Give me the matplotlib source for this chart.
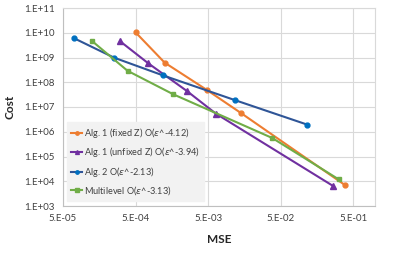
import matplotlib
matplotlib.use("Agg")
import matplotlib.pyplot as plt
from matplotlib.ticker import FixedLocator, NullLocator

plt.rcParams['font.family'] = ['Lato', 'DejaVu Sans']
plt.rcParams['mathtext.fontset'] = 'dejavusans'

# Data
mse_fixed = [5.0e-4, 1.26e-3, 4.8e-3, 1.42e-2, 0.386]
cost_fixed = [1.04e10, 6.2e8, 4.9e7, 5.7e6, 7.0e3]

mse_unfixed = [3.07e-4, 7.5e-4, 2.56e-3, 6.4e-3, 0.261]
cost_unfixed = [4.5e9, 5.8e8, 4.4e7, 5.4e6, 6.6e3]

mse_alg2 = [7.1e-5, 2.54e-4, 1.19e-3, 1.17e-2, 0.117]
cost_alg2 = [6.0e9, 9.8e8, 1.9e8, 1.9e7, 1.93e6]

mse_ml = [1.26e-4, 3.88e-4, 1.66e-3, 3.83e-2, 0.315]
cost_ml = [4.6e9, 2.9e8, 3.25e7, 5.6e5, 1.2e4]

labels = [r'Alg. 1 (fixed Z) O($\varepsilon$^-4.12)',
          r'Alg. 1 (unfixed Z) O($\varepsilon$^-3.94)',
          r'Alg. 2 O($\varepsilon$^-2.13)',
          r'Multilevel O($\varepsilon$^-3.13)']

x_ticks = [5e-5, 5e-4, 5e-3, 5e-2, 5e-1]
x_ticklabels = ['5.E-05', '5.E-04', '5.E-03', '5.E-02', '5.E-01']
y_ticks = [1e3, 1e4, 1e5, 1e6, 1e7, 1e8, 1e9, 1e10, 1e11]
y_ticklabels = ['1.E+03', '1.E+04', '1.E+05', '1.E+06', '1.E+07',
                '1.E+08', '1.E+09', '1.E+10', '1.E+11']

fig = plt.figure(figsize=(3.99, 2.57), dpi=100)
ax = fig.add_axes([63/399, 1-206/257, (375-63)/399, (206-8)/257])

ax.plot(mse_fixed, cost_fixed, color='#ED7D31', lw=1.5, marker='o', ms=3.5,
        label=labels[0], zorder=3)
ax.plot(mse_unfixed, cost_unfixed, color='#7030A0', lw=1.5, marker='^', ms=4,
        label=labels[1], zorder=3)
ax.plot(mse_alg2, cost_alg2, color='#2F5597', lw=1.5, marker='o', ms=3.5,
        mfc='#0070C0', mec='#0070C0', label=labels[2], zorder=3)
ax.plot(mse_ml, cost_ml, color='#70AD47', lw=1.5, marker='s', ms=3.5,
        label=labels[3], zorder=3)

ax.set_xscale('log')
ax.set_yscale('log')
ax.set_xlim(5e-5, 1.0)
ax.set_ylim(1e3, 1e11)
ax.xaxis.set_major_locator(FixedLocator(x_ticks))
ax.xaxis.set_minor_locator(NullLocator())
ax.yaxis.set_major_locator(FixedLocator(y_ticks))
ax.yaxis.set_minor_locator(NullLocator())
ax.set_xticklabels(x_ticklabels)
ax.set_yticklabels(y_ticklabels)
ax.tick_params(axis='both', length=0, labelsize=7, colors='#404040', pad=6)

ax.grid(True, color='#D9D9D9', lw=0.8, zorder=0)
ax.set_axisbelow(True)
for side in ['top', 'right']:
    ax.spines[side].set_color('#D9D9D9')
    ax.spines[side].set_linewidth(0.8)
for side in ['left', 'bottom']:
    ax.spines[side].set_color('#BFBFBF')
    ax.spines[side].set_linewidth(0.8)

ax.set_xlabel('MSE', fontsize=8.5, fontweight='bold', color='#262626', labelpad=8)
ax.set_ylabel('Cost', fontsize=8.5, fontweight='bold', color='#262626', labelpad=6)

leg = ax.legend(loc='lower left', bbox_to_anchor=(0.008, 0.015), fontsize=6.6,
                frameon=True, fancybox=False, facecolor='#F2F2F2', edgecolor='#F2F2F2',
                framealpha=1, handlelength=1.2, handletextpad=0.2, labelspacing=0.6,
                borderpad=0.45, borderaxespad=0.2, markerscale=0.7)
for t in leg.get_texts():
    t.set_color('#404040')

fig.savefig('out.png', dpi=100)
